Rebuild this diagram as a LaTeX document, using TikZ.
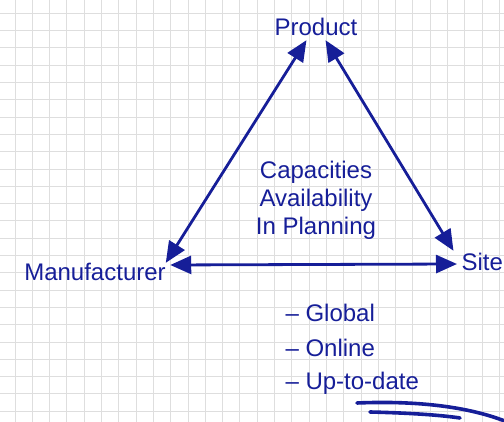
\documentclass[tikz,border=0pt]{standalone}
\usepackage{fontspec}
\setmainfont{Liberation Sans}
\usetikzlibrary{arrows.meta,positioning}
\definecolor{ink}{RGB}{22,30,152}
\definecolor{gridline}{RGB}{222,222,222}

\begin{document}
\begin{tikzpicture}[x=1pt,y=1pt,>={Triangle[length=21pt,width=18pt]},
    every node/.style={text=ink,font=\fontsize{24}{28}\selectfont},
    link/.style={<->,draw=ink,line width=2.8pt,shorten >=1pt,shorten <=1pt},
    stroke/.style={draw=ink,line width=3.6pt,line cap=round},
    item/.style={anchor=west}]

    \useasboundingbox (0,0) rectangle (504,422);
    \draw[gridline,line width=0.9pt,step=17.3pt,shift={(15pt,10.8pt)}] (-17.3,-17.3) grid (500,420);

    % three corners
    \node (prod) at (316,395) {Product};
    \node (manu) at (95,150) {Manufacturer};
    \node[anchor=west] (site) at (458,160) {Site};

    % middle
    \node[align=center] (cap) at (316,222) {Capacities\\Availability\\In Planning};

    \draw[link] ([xshift=-9pt]prod.south) -- ([xshift=-4pt,yshift=-4pt]manu.north east);
    \draw[link] ([xshift=9pt]prod.south) -- ([xshift=-4pt,yshift=-2pt]site.north west);
    \draw[link] ([yshift=7pt]manu.east) -- ([yshift=-2pt]site.west);

    % list
    \node[item] (glob) at (282,109) {-- Global};
    \node[item] (onl) at ([yshift=-35pt]glob.west) {-- Online};
    \node[item] (upto) at ([yshift=-35pt]onl.west) {-- Up-to-date};

    \draw[stroke] (357,19) .. controls (430,22) and (480,12) .. (512,-2);
    \draw[stroke] (370,10) .. controls (410,9) and (440,7) .. (460,4);

\end{tikzpicture}
\end{document}
